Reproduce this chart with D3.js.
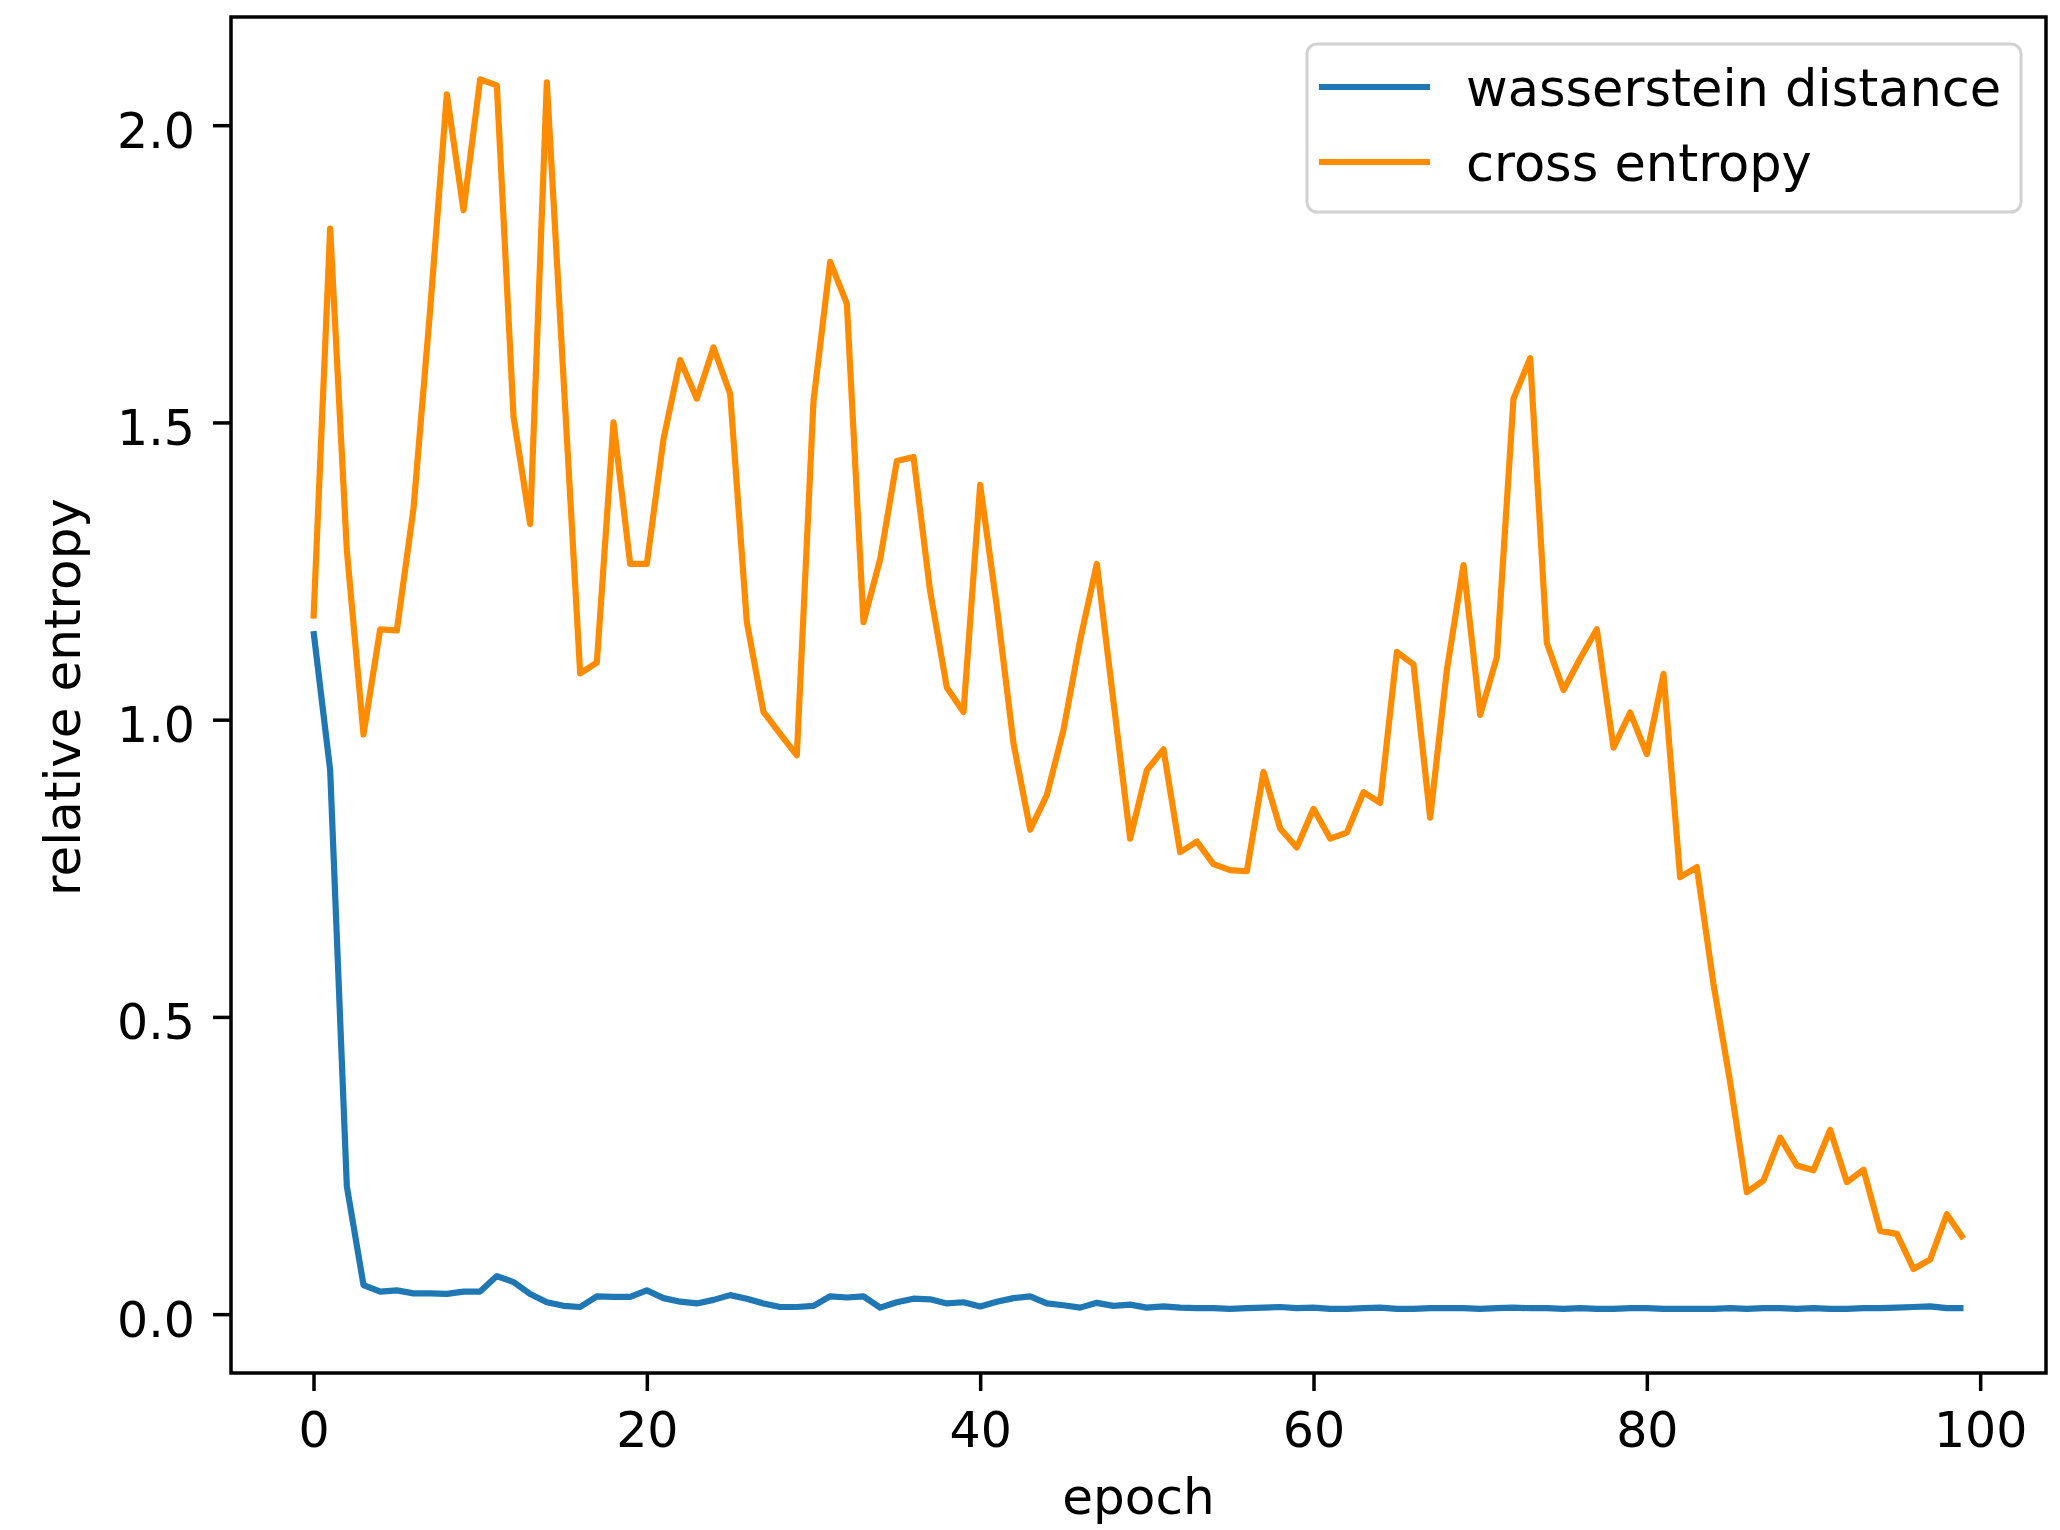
<!DOCTYPE html>
<html>
<head>
<meta charset="utf-8">
<script src="https://cdn.jsdelivr.net/npm/d3@7"></script>
<style>
  html, body { margin: 0; padding: 0; background: #ffffff; }
  svg { display: block; }
  text { font-family: "DejaVu Sans", sans-serif; fill: #000; }
</style>
</head>
<body>
<svg id="chart" width="2060" height="1530"></svg>
<script>
// ---- data ----
const epochs = d3.range(0, 100);

const wassersteinDistance = [
  1.149, 0.915, 0.215, 0.049, 0.038, 0.040, 0.035, 0.035, 0.034, 0.038,
  0.038, 0.064, 0.054, 0.034, 0.020, 0.014, 0.012, 0.030, 0.029, 0.029,
  0.040, 0.027, 0.021, 0.018, 0.024, 0.032, 0.026, 0.018, 0.012, 0.012,
  0.014, 0.030, 0.028, 0.030, 0.011, 0.020, 0.026, 0.025, 0.018, 0.020,
  0.013, 0.021, 0.027, 0.030, 0.018, 0.015, 0.011, 0.019, 0.014, 0.016,
  0.011, 0.013, 0.011, 0.010, 0.010, 0.009, 0.010, 0.011, 0.012, 0.010,
  0.011, 0.009, 0.009, 0.010, 0.011, 0.009, 0.009, 0.010, 0.010, 0.010,
  0.009, 0.010, 0.011, 0.010, 0.010, 0.009, 0.010, 0.009, 0.009, 0.010,
  0.010, 0.009, 0.009, 0.009, 0.009, 0.010, 0.009, 0.010, 0.010, 0.009,
  0.010, 0.009, 0.009, 0.010, 0.010, 0.011, 0.012, 0.013, 0.010, 0.010
];

const crossEntropy = [
  1.170, 1.826, 1.285, 0.975, 1.152, 1.150, 1.355, 1.690, 2.052, 1.857,
  2.077, 2.067, 1.510, 1.329, 2.072, 1.575, 1.078, 1.096, 1.500, 1.262,
  1.262, 1.472, 1.605, 1.540, 1.626, 1.548, 1.164, 1.013, 0.976, 0.940,
  1.536, 1.770, 1.700, 1.164, 1.270, 1.435, 1.442, 1.216, 1.054, 1.013,
  1.395, 1.190, 0.960, 0.815, 0.873, 0.983, 1.134, 1.262, 1.030, 0.800,
  0.915, 0.950, 0.777, 0.795, 0.757, 0.747, 0.745, 0.912, 0.817, 0.785,
  0.850, 0.800, 0.810, 0.878, 0.860, 1.114, 1.093, 0.835, 1.083, 1.260,
  1.008, 1.105, 1.540, 1.608, 1.129, 1.050, 1.103, 1.152, 0.953, 1.012,
  0.942, 1.077, 0.735, 0.752, 0.555, 0.390, 0.205, 0.225, 0.297, 0.250,
  0.242, 0.310, 0.222, 0.243, 0.140, 0.135, 0.076, 0.092, 0.168, 0.127
];

const seriesNames = ["wasserstein distance", "cross entropy"];
const seriesColors = ["#1f77b4", "#ff8c00"];
const xTicks = [0, 20, 40, 60, 80, 100];
const yTicks = [0.0, 0.5, 1.0, 1.5, 2.0];
const xLabel = "epoch";
const yLabel = "relative entropy";

// ---- layout ----
const svg = d3.select("#chart");
const plot = { left: 231, right: 2046, top: 17, bottom: 1373 };
const FONT = 49;
const LABEL_FONT = 50;
const LEGEND_FONT = 51;

const x = d3.scaleLinear().domain([-4.95, 103.95]).range([plot.left, plot.right]);
const y = d3.scaleLinear().domain([-0.099, 2.182]).range([plot.bottom, plot.top]);

svg.append("rect").attr("width", 2060).attr("height", 1530).attr("fill", "#fff");

// clip
svg.append("clipPath").attr("id", "clip")
  .append("rect")
  .attr("x", plot.left).attr("y", plot.top)
  .attr("width", plot.right - plot.left).attr("height", plot.bottom - plot.top);

// lines
const series = [wassersteinDistance, crossEntropy];
const line = d3.line().x((d, i) => x(epochs[i])).y(d => y(d));
const gLines = svg.append("g").attr("clip-path", "url(#clip)");
series.forEach((s, k) => {
  gLines.append("path")
    .datum(s)
    .attr("d", line)
    .attr("fill", "none")
    .attr("stroke", seriesColors[k])
    .attr("stroke-width", 6.2)
    .attr("stroke-linejoin", "round")
    .attr("stroke-linecap", "butt");
});

// axes
const xAxis = d3.axisBottom(x).tickValues(xTicks).tickSize(18).tickPadding(0).tickFormat(d3.format("d"));
const gx = svg.append("g").attr("transform", `translate(0,${plot.bottom})`).call(xAxis);
gx.select(".domain").remove();
gx.selectAll(".tick line").attr("stroke", "#000").attr("stroke-width", 3.5);
gx.selectAll(".tick text")
  .attr("y", 74).attr("dy", null)
  .style("font-size", FONT + "px").style("font-family", "DejaVu Sans").attr("fill", "#000");

const yAxis = d3.axisLeft(y).tickValues(yTicks).tickSize(18).tickPadding(0).tickFormat(d3.format(".1f"));
const gy = svg.append("g").attr("transform", `translate(${plot.left},0)`).call(yAxis);
gy.select(".domain").remove();
gy.selectAll(".tick line").attr("stroke", "#000").attr("stroke-width", 3.5);
gy.selectAll(".tick text")
  .attr("x", -36).attr("dy", null).attr("y", 22)
  .style("font-size", FONT + "px").style("font-family", "DejaVu Sans").attr("fill", "#000");

// frame
svg.append("rect")
  .attr("x", plot.left).attr("y", plot.top)
  .attr("width", plot.right - plot.left).attr("height", plot.bottom - plot.top)
  .attr("fill", "none").attr("stroke", "#000").attr("stroke-width", 3.5);

// axis labels
svg.append("text")
  .attr("x", (plot.left + plot.right) / 2).attr("y", 1514)
  .attr("text-anchor", "middle")
  .style("font-size", LABEL_FONT + "px")
  .text(xLabel);

svg.append("text")
  .attr("transform", `translate(80,${(plot.top + plot.bottom) / 2 + 2}) rotate(-90)`)
  .attr("text-anchor", "middle")
  .style("font-size", LABEL_FONT + "px")
  .text(yLabel);

// legend
const lg = svg.append("g");
lg.append("rect")
  .attr("x", 1307).attr("y", 44).attr("width", 714).attr("height", 168)
  .attr("rx", 10).attr("ry", 10)
  .attr("fill", "rgba(255,255,255,0.8)")
  .attr("stroke", "#d2d2d2").attr("stroke-width", 3);
const legendRows = [87, 162];
seriesNames.forEach((name, k) => {
  lg.append("line")
    .attr("x1", 1319).attr("x2", 1430)
    .attr("y1", legendRows[k]).attr("y2", legendRows[k])
    .attr("stroke", seriesColors[k]).attr("stroke-width", 6.2);
  lg.append("text")
    .attr("x", 1466).attr("y", legendRows[k] + 19)
    .style("font-size", LEGEND_FONT + "px")
    .text(name);
});
</script>
</body>
</html>
